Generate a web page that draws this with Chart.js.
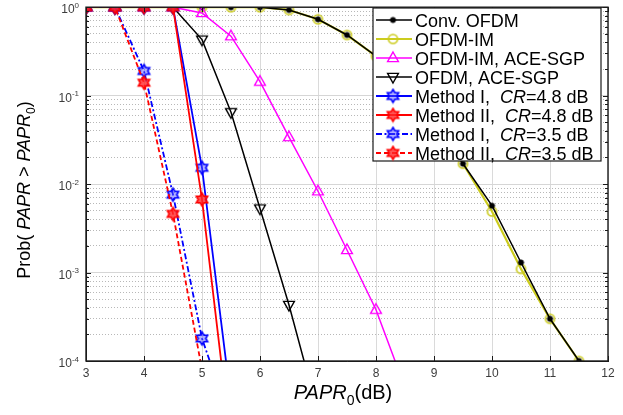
<!DOCTYPE html>
<html>
<head>
<meta charset="utf-8">
<script src="https://cdn.jsdelivr.net/npm/chart.js@4.4.0/dist/chart.umd.min.js"></script>
<style>
  html, body { margin: 0; padding: 0; background: #fff; }
  #wrap { width: 623px; height: 415px; }
</style>
</head>
<body>
<div id="wrap"><canvas id="ccdf" width="623" height="415"></canvas></div>
<script>
// PAPR0 grid (dB), shared by every curve
const papr0 = [3, 3.5, 4, 4.5, 5, 5.5, 6, 6.5, 7, 7.5, 8, 8.5, 9, 9.5, 10, 10.5, 11, 11.5];

// Prob(PAPR > PAPR0); null = curve already left the plot
const convOfdm = [1, 1, 1, 1, 1, 1, 1, 0.93, 0.73, 0.485, 0.28, 0.13, 0.052, 0.017, 0.0057, 0.0013, 0.0003, 0.0001];
const ofdmIm   = [1, 1, 1, 1, 1, 1, 1, 0.93, 0.73, 0.485, 0.28, 0.13, 0.052, 0.017, 0.0049, 0.0011, 0.0003, 0.0001];
const imAceSgp = [1, 1, 1, 1, 0.86, 0.47, 0.144, 0.034, 0.0083, 0.0018, 0.00038, 0.00005, null, null, null, null, null, null];
const aceSgp   = [1, 1, 1, 1, 0.43, 0.065, 0.0053, 0.00043, 0.000026, null, null, null, null, null, null, null, null, null];
const m1Cr48   = [1, 1, 1, 1, 0.0153, 0.000035, null, null, null, null, null, null, null, null, null, null, null, null];
const m2Cr48   = [1, 1, 1, 1, 0.0067, 0.0000115, null, null, null, null, null, null, null, null, null, null, null, null];
const m1Cr35   = [1, 1, 0.19, 0.0076, 0.00018, 0.00002, null, null, null, null, null, null, null, null, null, null, null, null];
const m2Cr35   = [1, 1, 0.14, 0.0046, 0.00008, null, null, null, null, null, null, null, null, null, null, null, null, null];

const legendLabels = [
  'Conv. OFDM', 'OFDM-IM', 'OFDM-IM, ACE-SGP', 'OFDM, ACE-SGP',
  'Method I,  CR=4.8 dB', 'Method II,  CR=4.8 dB', 'Method I,  CR=3.5 dB', 'Method II,  CR=3.5 dB'
];

// axis ticks
const xTicks = [3, 4, 5, 6, 7, 8, 9, 10, 11, 12];
const yDecades = [1e-4, 1e-3, 1e-2, 1e-1, 1];
const yExponents = ['-4', '-3', '-2', '-1', '0'];
const yTicks = [];
yDecades.slice(0, -1).forEach(d => { for (let k = 1; k < 10; k++) yTicks.push(d * k); });
yTicks.push(1);

const FONT = '"Liberation Sans", Arial, sans-serif';
const YELLOW = '#cccc1e';

function isDecade(v) {
  if (!v) return false;
  const l = Math.log10(v);
  return Math.abs(l - Math.round(l)) < 1e-6;
}

// small canvases used as point styles (MATLAB-like open markers)
function makeMarker(shape, color, r, lw, fill) {
  const s = Math.ceil(2 * r + lw + 2);
  const c = document.createElement('canvas');
  c.width = s; c.height = s;
  const g = c.getContext('2d');
  g.translate(s / 2, s / 2);
  g.strokeStyle = color;
  g.lineWidth = lw;
  g.fillStyle = fill || 'rgba(0,0,0,0)';
  g.beginPath();
  if (shape === 'circle') {
    g.arc(0, 0, r, 0, Math.PI * 2);
  } else if (shape === 'up' || shape === 'down') {
    const k = shape === 'up' ? 1 : -1;
    g.moveTo(0, -k * r);
    g.lineTo(r * 0.9, k * r * 0.6);
    g.lineTo(-r * 0.9, k * r * 0.6);
    g.closePath();
  } else if (shape === 'hex') {
    for (let i = 0; i < 12; i++) {
      const a = -Math.PI / 2 + i * Math.PI / 6;
      const rr = i % 2 === 0 ? r : r * 0.58;
      g.lineTo(rr * Math.cos(a), rr * Math.sin(a));
    }
    g.closePath();
  }
  g.fill();
  g.stroke();
  return c;
}

const mkDot = makeMarker('circle', '#000', 2.6, 1, '#000');
const mkCircle = makeMarker('circle', YELLOW, 4.5, 1.6);
const mkUp = makeMarker('up', '#ff00ff', 6, 1.4);
const mkDown = makeMarker('down', '#000', 6, 1.4);
const mkHexBlue = makeMarker('hex', '#0000ff', 6.5, 1.6, 'rgba(80,80,255,0.45)');
const mkHexRed = makeMarker('hex', '#ff0000', 6.5, 1.6, 'rgba(255,40,40,0.8)');

function series(label, values, color, width, dash, marker, order) {
  return {
    label: label,
    order: order,
    data: papr0.map((x, i) => ({ x: x, y: values[i] })),
    borderColor: color,
    borderWidth: width,
    borderDash: dash,
    pointStyle: marker,
    pointRadius: 5,
    pointHoverRadius: 5,
    tension: 0,
    fill: false,
    spanGaps: false
  };
}

const datasets = [
  series(legendLabels[0], convOfdm, '#000', 1.5, [], mkDot, 9),
  series(legendLabels[1], ofdmIm, YELLOW, 2.2, [], mkCircle, 10),
  series(legendLabels[2], imAceSgp, '#ff00ff', 1.5, [], mkUp, 8),
  series(legendLabels[3], aceSgp, '#000', 1.5, [], mkDown, 7),
  series(legendLabels[4], m1Cr48, '#0000ff', 1.8, [], mkHexBlue, 6),
  series(legendLabels[5], m2Cr48, '#ff0000', 1.8, [], mkHexRed, 5),
  series(legendLabels[6], m1Cr35, '#0000ff', 1.8, [6, 2.5, 2, 2.5], mkHexBlue, 4),
  series(legendLabels[7], m2Cr35, '#ff0000', 1.8, [5, 3], mkHexRed, 3)
];

// draws text made of parts: [text, ''|'i'|'sub'|'sup']
function drawRich(ctx, parts, x, y, size, align) {
  const fontFor = st => (st === 'i' ? 'italic ' : '') +
    Math.round(st === 'sub' || st === 'sup' ? size * 0.68 : size) + 'px ' + FONT;
  let total = 0;
  parts.forEach(([t, st]) => { ctx.font = fontFor(st); total += ctx.measureText(t).width; });
  let cx = align === 'center' ? x - total / 2 : align === 'right' ? x - total : x;
  ctx.textAlign = 'left';
  ctx.textBaseline = 'alphabetic';
  parts.forEach(([t, st]) => {
    ctx.font = fontFor(st);
    const dy = st === 'sub' ? size * 0.3 : st === 'sup' ? -size * 0.45 : 0;
    ctx.fillText(t, cx, y + dy);
    cx += ctx.measureText(t).width;
  });
}

function labelParts(label) {
  const i = label.indexOf('CR');
  if (i < 0) return [[label, '']];
  return [[label.slice(0, i), ''], ['CR', 'i'], [label.slice(i + 2), '']];
}

const decor = {
  id: 'decor',
  afterDraw(chart) {
    const { ctx, chartArea: a, scales: { x, y } } = chart;
    ctx.save();

    // frame and inward ticks
    ctx.strokeStyle = '#1a1a1a';
    ctx.lineWidth = 1.4;
    ctx.strokeRect(a.left, a.top, a.right - a.left, a.bottom - a.top);
    ctx.lineWidth = 1;
    ctx.beginPath();
    xTicks.forEach(v => {
      const px = Math.round(x.getPixelForValue(v)) + 0.5;
      ctx.moveTo(px, a.bottom); ctx.lineTo(px, a.bottom - 5);
      ctx.moveTo(px, a.top); ctx.lineTo(px, a.top + 5);
    });
    yTicks.forEach(v => {
      const py = Math.round(y.getPixelForValue(v)) + 0.5;
      const len = isDecade(v) ? 5 : 3;
      ctx.moveTo(a.left, py); ctx.lineTo(a.left + len, py);
      ctx.moveTo(a.right, py); ctx.lineTo(a.right - len, py);
    });
    ctx.stroke();

    // tick labels
    ctx.fillStyle = '#3c3c3c';
    xTicks.forEach(v => drawRich(ctx, [[String(v), '']], x.getPixelForValue(v), a.bottom + 16, 12, 'center'));
    yDecades.forEach((v, i) => {
      drawRich(ctx, [['10', ''], [yExponents[i], 'sup']], a.left - 7, y.getPixelForValue(v) + 6, 12, 'right');
    });

    // axis titles
    ctx.fillStyle = '#000';
    drawRich(ctx, [['PAPR', 'i'], ['0', 'sub'], ['(dB)', '']], (a.left + a.right) / 2 - 4, 399, 20, 'center');
    ctx.save();
    ctx.translate(30, 190);
    ctx.rotate(-Math.PI / 2);
    drawRich(ctx, [['Prob( ', ''], ['PAPR', 'i'], [' > ', ''], ['PAPR', 'i'], ['0', 'sub'], [')', '']], 0, 0, 18, 'center');
    ctx.restore();

    // legend box
    const lx = 373, ly = 8, lw = 228, lh = 153;
    ctx.fillStyle = '#fff';
    ctx.fillRect(lx, ly, lw, lh);
    ctx.strokeStyle = '#1a1a1a';
    ctx.lineWidth = 1.2;
    ctx.strokeRect(lx, ly, lw, lh);
    chart.data.datasets.forEach((ds, i) => {
      const ry = 20 + 19 * i;
      ctx.strokeStyle = ds.borderColor;
      ctx.lineWidth = ds.borderWidth;
      ctx.setLineDash(ds.borderDash);
      ctx.beginPath();
      ctx.moveTo(376, ry); ctx.lineTo(412, ry);
      ctx.stroke();
      ctx.setLineDash([]);
      const m = ds.pointStyle;
      ctx.drawImage(m, 393 - m.width / 2, ry - m.height / 2);
      ctx.fillStyle = '#000';
      drawRich(ctx, labelParts(ds.label), 415, ry + 6.5, 18, 'left');
    });

    ctx.restore();
  }
};

new Chart(document.getElementById('ccdf'), {
  type: 'line',
  data: { datasets: datasets },
  options: {
    responsive: false,
    animation: false,
    events: [],
    layout: { padding: { left: 0, right: 15, top: 4, bottom: 0 } },
    plugins: { legend: { display: false }, tooltip: { enabled: false } },
    scales: {
      x: {
        type: 'linear', min: 3, max: 12,
        ticks: { stepSize: 1, display: false },
        grid: { color: '#dadada', lineWidth: 1, drawTicks: false },
        border: { color: '#1a1a1a', width: 1 },
        afterFit: s => { s.height = 54; s.paddingLeft = 0; s.paddingRight = 0; }
      },
      y: {
        type: 'logarithmic', min: 1e-4, max: 1,
        afterBuildTicks: s => { s.ticks = yTicks.map(v => ({ value: v })); },
        ticks: { display: false },
        grid: {
          color: c => (c.tick && isDecade(c.tick.value)) ? '#d6d6d6' : '#b8b8b8',
          lineWidth: 1,
          drawTicks: false
        },
        border: {
          color: '#1a1a1a', width: 1,
          dash: c => (c.tick && !isDecade(c.tick.value)) ? [1, 2] : []
        },
        afterFit: s => { s.width = 86; s.paddingTop = 0; s.paddingBottom = 0; }
      }
    }
  },
  plugins: [decor]
});
</script>
</body>
</html>
